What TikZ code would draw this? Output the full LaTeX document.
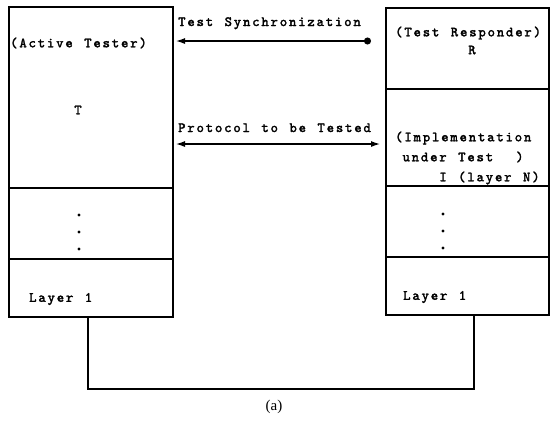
\documentclass[tikz,border=0pt]{standalone}
\usepackage{fontspec}
\newfontfamily\typefont{lmmono10-regular.otf}[FakeBold=2.2,LetterSpace=13.2,WordSpace=1.25]
\newfontfamily\capfont{Liberation Serif}
\usetikzlibrary{positioning,arrows.meta}

\begin{document}
\begin{tikzpicture}[x=1pt,y=-1pt,
                    box/.style={draw,line width=1.2pt,inner sep=0pt,outer sep=0pt,anchor=north west},
                    txt/.style={font=\typefont\fontsize{14}{20}\selectfont,inner sep=0pt,anchor=west,align=left},
                    dotmark/.style={circle,fill,inner sep=0pt,minimum size=3.4pt},
                    link/.style={line width=1.2pt},
                    tip/.tip={Latex[length=9pt,width=6pt]}]
                    \useasboundingbox (0,0) rectangle (551,432);
                    % active tester stack
                    \node[box,minimum width=164,minimum height=181] (tester) at (9,7) {};
                    \node[box,minimum width=164,minimum height=71,below=0pt of tester] (tdots) {};
                    \node[box,minimum width=164,minimum height=58,below=0pt of tdots] (tlayer) {};
                    % test responder stack
                    \node[box,minimum width=163,minimum height=81] (responder) at (386,8) {};
                    \node[box,minimum width=163,minimum height=97,below=0pt of responder] (iut) {};
                    \node[box,minimum width=163,minimum height=71,below=0pt of iut] (rdots) {};
                    \node[box,minimum width=163,minimum height=58,below=0pt of rdots] (rlayer) {};
                    % labels
                    \node[txt] (testerlbl) at (10,43) {(Active Tester)};
                    \node[txt,anchor=center] (tlbl) at (78,110) {T};
                    \node[txt] (tlayerlbl) at (29,299) {Layer 1};
                    \node[txt] (responderlbl) at (395,33) {(Test Responder)};
                    \node[txt,anchor=center] (rlbl) at (472,50) {R};
                    \node[txt] (iutlbl) at (395,158) {(Implementation\\\phantom{I}under Test~~)\\\phantom{IIIII}I (layer N)};
                    \node[txt] (rlayerlbl) at (403,297) {Layer 1};
                    \foreach \y [count=\i] in {215,232,249} {
                        \node[dotmark] (td\i) at (79,\y) {};
                        \node[dotmark] (rd\i) at (443,\y-1) {};
                    }
                    % arrows between the stacks
                    \coordinate (syncL) at (176,41);
                    \coordinate (syncR) at (371,41);
                    \coordinate (protL) at (176,144);
                    \coordinate (protR) at (380,144);
                    \node[txt,anchor=base west] (synclbl) at (178,26) {Test Synchronization};
                    \node[txt,anchor=base west] (protlbl) at (178,132) {Protocol to be Tested};
                    \draw[link,tip-{Circle[length=7pt]}] (syncL) -- (syncR);
                    \draw[link,tip-tip] (protL) -- (protR);
                    % physical link
                    \draw[link] ([xshift=79pt]tlayer.south west) -- ++(0,72) -| ([xshift=88pt]rlayer.south west);
                    \node[font=\capfont\fontsize{15}{17}\selectfont] (caption) at (274,407) {(a)};
                \end{tikzpicture}
\end{document}
